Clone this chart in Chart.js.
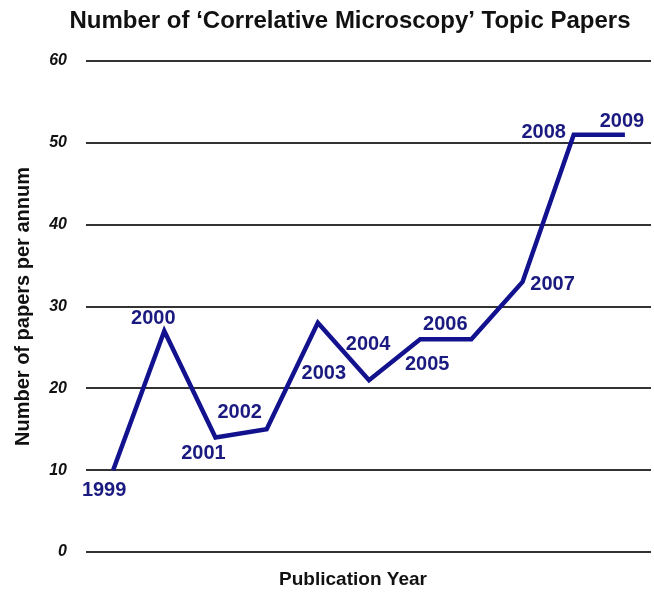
<!DOCTYPE html>
<html>
<head>
<meta charset="utf-8">
<script src="https://cdn.jsdelivr.net/npm/chart.js@4/dist/chart.umd.min.js"></script>
<style>
  html, body { margin: 0; padding: 0; background: #fff; }
  #wrap { width: 654px; height: 592px; }
</style>
</head>
<body>
<div id="wrap"><canvas id="chart"></canvas></div>
<script>
const years = [1999, 2000, 2001, 2002, 2003, 2004, 2005, 2006, 2007, 2008, 2009];
const papers = [10, 27, 14, 15, 28, 21, 26, 26, 33, 51, 51];
const yTicks = [0, 10, 20, 30, 40, 50, 60];

const chartTitle = 'Number of \u2018Correlative Microscopy\u2019 Topic Papers';
const xTitle = 'Publication Year';

// where each year label sits relative to its point (px)
const labelShift = [
  [-9, 20], [-11, -13], [-12, 16], [-27, -17], [6, 51], [-1, -36],
  [7, 25], [-26, -15], [30, 3], [-30, -2], [-3, -13]
];

const lineBlue = '#12128e';
const labelBlue = '#1a1a80';
const FONT = '"Liberation Sans", Arial, sans-serif';

// titles are drawn by hand: the original is not centred on the plot area
const textBits = {
  id: 'textBits',
  afterDraw(chart) {
    const ctx = chart.ctx;
    ctx.save();
    ctx.fillStyle = '#111';
    ctx.textAlign = 'center';
    ctx.textBaseline = 'middle';
    ctx.font = 'bold 24px ' + FONT;
    ctx.fillText(chartTitle, 350, 21);
    ctx.font = 'bold 19px ' + FONT;
    ctx.fillText(xTitle, 353, 580);
    ctx.restore();
  },
  afterDatasetsDraw(chart) {
    const ctx = chart.ctx;
    const meta = chart.getDatasetMeta(0);
    ctx.save();
    ctx.font = 'bold 20px ' + FONT;
    ctx.fillStyle = labelBlue;
    ctx.textAlign = 'center';
    ctx.textBaseline = 'middle';
    meta.data.forEach((pt, i) => {
      const [dx, dy] = labelShift[i];
      ctx.fillText(String(years[i]), pt.x + dx, pt.y + dy);
    });
    ctx.restore();
  }
};

new Chart(document.getElementById('chart'), {
  type: 'line',
  data: {
    datasets: [{
      data: years.map((y, i) => ({ x: y, y: papers[i] })),
      borderColor: lineBlue,
      borderWidth: 4.5,
      pointRadius: 0,
      tension: 0,
      fill: false
    }]
  },
  options: {
    responsive: true,
    maintainAspectRatio: false,
    animation: false,
    layout: { padding: { left: 0, right: 3, top: 61, bottom: 0 } },
    plugins: {
      legend: { display: false },
      tooltip: { enabled: false },
      title: { display: false }
    },
    scales: {
      x: {
        type: 'linear',
        min: 1998.47,
        max: 2009.51,
        grid: { display: false },
        border: { display: false },
        ticks: { display: false },
        afterFit: s => { s.height = 40; }
      },
      y: {
        min: 0,
        max: 60,
        afterBuildTicks: s => { s.ticks = yTicks.map(v => ({ value: v })); },
        grid: { color: '#333', lineWidth: 2, drawTicks: false },
        border: { display: false },
        ticks: {
          color: '#111',
          padding: 19,
          font: { family: FONT, size: 16, weight: 'bold', style: 'italic' }
        },
        title: {
          display: true,
          text: 'Number of papers per annum',
          color: '#111',
          font: { family: FONT, size: 20, weight: 'bold' },
          padding: { top: 11, bottom: 0 }
        },
        afterFit: s => { s.width = 86; }
      }
    }
  },
  plugins: [textBits]
});
</script>
</body>
</html>
